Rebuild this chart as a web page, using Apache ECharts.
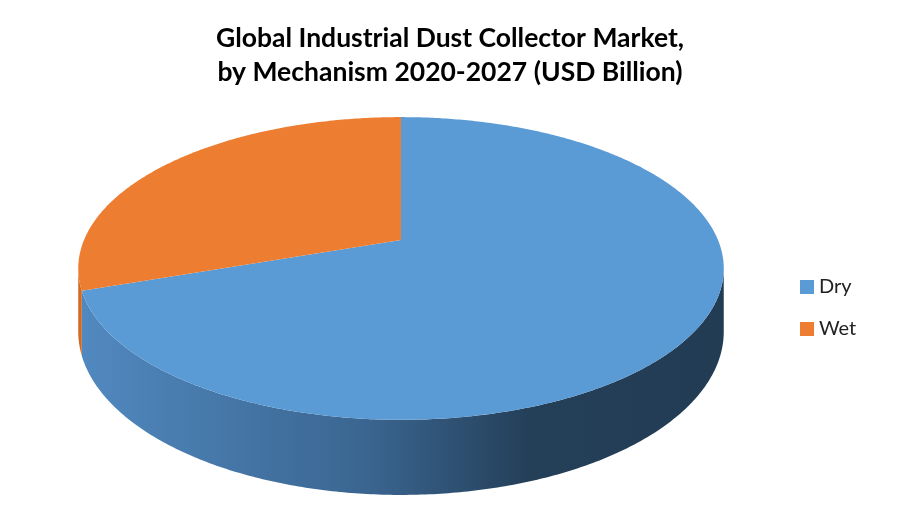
<!DOCTYPE html>
<html lang="en">
<head>
    <meta charset="UTF-8">
    <title>Industrial Dust Collector Market</title>
    <script src="https://cdn.jsdelivr.net/npm/echarts@6/dist/echarts.min.js"></script>
</head>
<body style="margin:0;background:#fff;">
<div id="main" style="width: 900px;height:525px;"></div>
<script type="text/javascript">
    // data (share of market, %)
    const categories = ['Dry', 'Wet'];
    const shares = [69.7, 30.3];
    const topColors = ['#5b9bd5', '#ed7d31'];

    // fake 3D pie geometry (perspective disc)
    const CX = 401, CY = 240; // projected centre of the top face
    const A = 317, E = 146;   // horizontal / vertical radius
    const C = 0.188;          // perspective factor, front bigger
    const DEPTH = 61;         // thickness of the disc

    const total = shares.reduce((s, v) => s + v, 0);
    const starts = [];
    let acc = 0;
    shares.forEach((v) => { starts.push(acc / total * Math.PI * 2); acc += v; });

    // angle measured clockwise from 12 o'clock
    function proj(theta, depth) {
        const u = Math.sin(theta), v = -Math.cos(theta);
        const d = 1 - C * v;
        return [CX + A * u / d, CY + (E * v + depth) / d];
    }
    function arc(t1, t2, depth) {
        const pts = [];
        const n = Math.max(2, Math.ceil(Math.abs(t2 - t1) / 0.01));
        for (let k = 0; k <= n; k++) pts.push(proj(t1 + (t2 - t1) * k / n, depth));
        return pts;
    }

    const sideRight = Math.acos(-C);          // silhouette on the right
    const sideLeft = Math.PI * 2 - sideRight; // silhouette on the left
    const sideColors = [
        [{ offset: 0, color: '#5189c0' }, { offset: 0.45, color: '#3a6590' }, { offset: 0.7, color: '#243f58' }, { offset: 1, color: '#223c54' }],
        [{ offset: 0, color: '#d06a26' }, { offset: 1, color: '#a8561e' }]
    ];

    function makeRender(i) {
        return function (params, api) {
            const t1 = starts[i];
            const t2 = t1 + shares[i] / total * Math.PI * 2;
            const children = [];
            const s = Math.max(t1, sideRight), e = Math.min(t2, sideLeft);
            if (s < e) {
                const pts = arc(s, e, 0).concat(arc(e, s, DEPTH));
                children.push({
                    type: 'polygon', z2: 1,
                    shape: { points: pts },
                    style: { fill: { type: 'linear', x: CX - A - 6, y: 0, x2: CX + A + 6, y2: 0, global: true, colorStops: sideColors[i] } }
                });
            }
            children.push({
                type: 'polygon', z2: 10,
                shape: { points: [[CX, CY]].concat(arc(t1, t2, 0)) },
                style: { fill: topColors[i] }
            });
            return { type: 'group', children: children };
        };
    }

    const series = categories.map((name, i) => ({
        type: 'custom',
        name: name,
        coordinateSystem: 'none',
        itemStyle: { color: topColors[i] },
        data: [[shares[i]]],
        renderItem: makeRender(i)
    }));

    let options = {
        animation: false,
        title: {
            text: 'Global Industrial Dust Collector Market,\nby Mechanism 2020-2027 (USD Billion)',
            left: 'center', top: 16,
            textStyle: { fontFamily: 'Lato', fontWeight: 'bold', fontSize: 26.5, lineHeight: 34, color: '#000' }
        },
        legend: {
            orient: 'vertical', left: 795, top: 272,
            icon: 'rect', itemWidth: 14, itemHeight: 14, itemGap: 22,
            textStyle: { fontFamily: 'Lato', fontSize: 20, color: '#222' },
            data: categories
        },
        series: series
    };
    let myChart = echarts.init(document.getElementById('main'));
    myChart.setOption(options);
</script>
</body>
</html>
